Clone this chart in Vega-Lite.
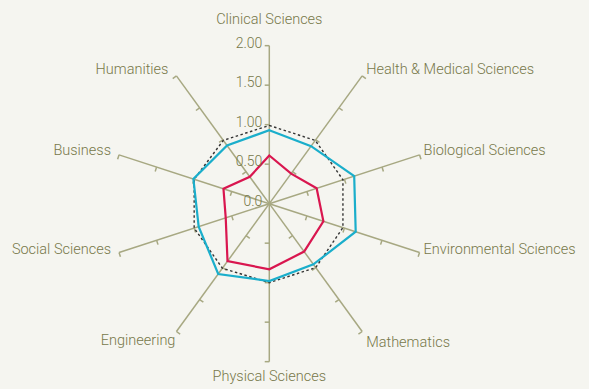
{
  "$schema": "https://vega.github.io/schema/vega-lite/v6.json",
  "width": 589,
  "height": 389,
  "autosize": {"type": "fit", "contains": "padding"},
  "padding": 0,
  "background": "#f5f5f0",
  "config": {"view": {"stroke": null}},
  "datasets": {
    "axes": [
      {"axis": "Clinical Sciences", "i": 0, "ticks": [0.5, 1, 1.5, 2]},
      {"axis": "Health & Medical Sciences", "i": 1, "ticks": [0.5, 1, 1.5, 2]},
      {"axis": "Biological Sciences", "i": 2, "ticks": [0.5, 1, 1.5, 2]},
      {"axis": "Environmental Sciences", "i": 3, "ticks": [0.5, 1, 1.5, 2]},
      {"axis": "Mathematics", "i": 4, "ticks": [0.5, 1, 1.5, 2]},
      {"axis": "Physical Sciences", "i": 5, "ticks": [0.5, 1, 1.5, 2]},
      {"axis": "Engineering", "i": 6, "ticks": [0.5, 1, 1.5, 2]},
      {"axis": "Social Sciences", "i": 7, "ticks": [0.5, 1, 1.5, 2]},
      {"axis": "Business", "i": 8, "ticks": [0.5, 1, 1.5, 2]},
      {"axis": "Humanities", "i": 9, "ticks": [0.5, 1, 1.5, 2]}
    ],
    "scores": [
      {"axis": "Clinical Sciences", "i": 0, "series": "Blue", "value": 0.93},
      {"axis": "Health & Medical Sciences", "i": 1, "series": "Blue", "value": 0.90},
      {"axis": "Biological Sciences", "i": 2, "series": "Blue", "value": 1.13},
      {"axis": "Environmental Sciences", "i": 3, "series": "Blue", "value": 1.15},
      {"axis": "Mathematics", "i": 4, "series": "Blue", "value": 0.95},
      {"axis": "Physical Sciences", "i": 5, "series": "Blue", "value": 0.98},
      {"axis": "Engineering", "i": 6, "series": "Blue", "value": 1.10},
      {"axis": "Social Sciences", "i": 7, "series": "Blue", "value": 0.94},
      {"axis": "Business", "i": 8, "series": "Blue", "value": 1.01},
      {"axis": "Humanities", "i": 9, "series": "Blue", "value": 0.91},
      {"axis": "Clinical Sciences", "i": 0, "series": "Red", "value": 0.61},
      {"axis": "Health & Medical Sciences", "i": 1, "series": "Red", "value": 0.47},
      {"axis": "Biological Sciences", "i": 2, "series": "Red", "value": 0.63},
      {"axis": "Environmental Sciences", "i": 3, "series": "Red", "value": 0.72},
      {"axis": "Mathematics", "i": 4, "series": "Red", "value": 0.75},
      {"axis": "Physical Sciences", "i": 5, "series": "Red", "value": 0.83},
      {"axis": "Engineering", "i": 6, "series": "Red", "value": 0.90},
      {"axis": "Social Sciences", "i": 7, "series": "Red", "value": 0.58},
      {"axis": "Business", "i": 8, "series": "Red", "value": 0.61},
      {"axis": "Humanities", "i": 9, "series": "Red", "value": 0.42},
      {"axis": "Clinical Sciences", "i": 0, "series": "Reference", "value": 0.99},
      {"axis": "Health & Medical Sciences", "i": 1, "series": "Reference", "value": 0.99},
      {"axis": "Biological Sciences", "i": 2, "series": "Reference", "value": 0.98},
      {"axis": "Environmental Sciences", "i": 3, "series": "Reference", "value": 0.98},
      {"axis": "Mathematics", "i": 4, "series": "Reference", "value": 1.0},
      {"axis": "Physical Sciences", "i": 5, "series": "Reference", "value": 1.0},
      {"axis": "Engineering", "i": 6, "series": "Reference", "value": 1.01},
      {"axis": "Social Sciences", "i": 7, "series": "Reference", "value": 1.0},
      {"axis": "Business", "i": 8, "series": "Reference", "value": 1.0},
      {"axis": "Humanities", "i": 9, "series": "Reference", "value": 0.99}
    ],
    "scaleLabels": [
      {"label": "0.0", "v": 0},
      {"label": "0.50", "v": 0.5},
      {"label": "1.00", "v": 1},
      {"label": "1.50", "v": 1.5},
      {"label": "2.00", "v": 2}
    ]
  },
  "layer": [
    {
      "data": {"name": "axes"},
      "transform": [
        {"calculate": "datum.i * PI / 5", "as": "t"},
        {"calculate": "0", "as": "ox"},
        {"calculate": "0", "as": "oy"},
        {"calculate": "2 * sin(datum.t)", "as": "ex"},
        {"calculate": "2 * cos(datum.t)", "as": "ey"}
      ],
      "mark": {"type": "rule", "color": "#a7a882", "strokeWidth": 1.5},
      "encoding": {
        "x": {"field": "ox", "type": "quantitative", "scale": {"domain": [-3.409, 4.047], "nice": false, "zero": false}, "axis": null},
        "y": {"field": "oy", "type": "quantitative", "scale": {"domain": [-2.346, 2.578], "nice": false, "zero": false}, "axis": null},
        "x2": {"field": "ex"},
        "y2": {"field": "ey"}
      }
    },
    {
      "data": {"name": "axes"},
      "transform": [
        {"flatten": ["ticks"], "as": ["v"]},
        {"calculate": "datum.i * PI / 5", "as": "t"},
        {"calculate": "datum.v * sin(datum.t)", "as": "px"},
        {"calculate": "datum.v * cos(datum.t)", "as": "py"},
        {"calculate": "abs(sin(datum.t)) < 0.01 ? -1 : (sin(datum.t) > 0 ? cos(datum.t) : -cos(datum.t))", "as": "tx"},
        {"calculate": "-abs(sin(datum.t))", "as": "ty"},
        {"calculate": "datum.px + 0.058 * datum.tx", "as": "qx"},
        {"calculate": "datum.py + 0.058 * datum.ty", "as": "qy"}
      ],
      "mark": {"type": "rule", "color": "#a7a882", "strokeWidth": 1.5},
      "encoding": {
        "x": {"field": "px", "type": "quantitative", "scale": {"domain": [-3.409, 4.047], "nice": false, "zero": false}, "axis": null},
        "y": {"field": "py", "type": "quantitative", "scale": {"domain": [-2.346, 2.578], "nice": false, "zero": false}, "axis": null},
        "x2": {"field": "qx"},
        "y2": {"field": "qy"}
      }
    },
    {
      "data": {"name": "scores"},
      "transform": [
        {"filter": "datum.series === 'Reference'"},
        {"calculate": "datum.i * PI / 5", "as": "t"},
        {"calculate": "datum.value * sin(datum.t)", "as": "x"},
        {"calculate": "datum.value * cos(datum.t)", "as": "y"}
      ],
      "mark": {"type": "line", "interpolate": "linear-closed", "color": "#333333", "strokeWidth": 1.4, "strokeDash": [2.5, 2.5]},
      "encoding": {
        "x": {"field": "x", "type": "quantitative", "scale": {"domain": [-3.409, 4.047], "nice": false, "zero": false}, "axis": null},
        "y": {"field": "y", "type": "quantitative", "scale": {"domain": [-2.346, 2.578], "nice": false, "zero": false}, "axis": null},
        "order": {"field": "i", "type": "quantitative"}
      }
    },
    {
      "data": {"name": "scores"},
      "transform": [
        {"filter": "datum.series === 'Blue'"},
        {"calculate": "datum.i * PI / 5", "as": "t"},
        {"calculate": "datum.value * sin(datum.t)", "as": "x"},
        {"calculate": "datum.value * cos(datum.t)", "as": "y"}
      ],
      "mark": {"type": "line", "interpolate": "linear-closed", "color": "#1aaecb", "strokeWidth": 2.2},
      "encoding": {
        "x": {"field": "x", "type": "quantitative", "scale": {"domain": [-3.409, 4.047], "nice": false, "zero": false}, "axis": null},
        "y": {"field": "y", "type": "quantitative", "scale": {"domain": [-2.346, 2.578], "nice": false, "zero": false}, "axis": null},
        "order": {"field": "i", "type": "quantitative"}
      }
    },
    {
      "data": {"name": "scores"},
      "transform": [
        {"filter": "datum.series === 'Red'"},
        {"calculate": "datum.i * PI / 5", "as": "t"},
        {"calculate": "datum.value * sin(datum.t)", "as": "x"},
        {"calculate": "datum.value * cos(datum.t)", "as": "y"}
      ],
      "mark": {"type": "line", "interpolate": "linear-closed", "color": "#d9164f", "strokeWidth": 2.2},
      "encoding": {
        "x": {"field": "x", "type": "quantitative", "scale": {"domain": [-3.409, 4.047], "nice": false, "zero": false}, "axis": null},
        "y": {"field": "y", "type": "quantitative", "scale": {"domain": [-2.346, 2.578], "nice": false, "zero": false}, "axis": null},
        "order": {"field": "i", "type": "quantitative"}
      }
    },
    {
      "data": {"name": "scaleLabels"},
      "mark": {"type": "text", "align": "right", "baseline": "middle", "dx": -7, "dy": -2, "font": "Roboto", "fontWeight": 300, "fontSize": 14, "color": "#77784a"},
      "encoding": {
        "x": {"datum": 0, "type": "quantitative", "scale": {"domain": [-3.409, 4.047], "nice": false, "zero": false}, "axis": null},
        "y": {"field": "v", "type": "quantitative", "scale": {"domain": [-2.346, 2.578], "nice": false, "zero": false}, "axis": null},
        "text": {"field": "label"}
      }
    },
    {
      "data": {"name": "axes"},
      "transform": [
        {"filter": "datum.i === 0"},
        {"calculate": "datum.i * PI / 5", "as": "t"},
        {"calculate": "2 * sin(datum.t)", "as": "x"},
        {"calculate": "2 * cos(datum.t)", "as": "y"}
      ],
      "mark": {"type": "text", "align": "center", "baseline": "bottom", "dy": -19, "font": "Roboto", "fontWeight": 300, "fontSize": 14.5, "color": "#77784a"},
      "encoding": {
        "x": {"field": "x", "type": "quantitative", "scale": {"domain": [-3.409, 4.047], "nice": false, "zero": false}, "axis": null},
        "y": {"field": "y", "type": "quantitative", "scale": {"domain": [-2.346, 2.578], "nice": false, "zero": false}, "axis": null},
        "text": {"field": "axis"}
      }
    },
    {
      "data": {"name": "axes"},
      "transform": [
        {"filter": "datum.i === 5"},
        {"calculate": "datum.i * PI / 5", "as": "t"},
        {"calculate": "2 * sin(datum.t)", "as": "x"},
        {"calculate": "2 * cos(datum.t)", "as": "y"}
      ],
      "mark": {"type": "text", "align": "center", "baseline": "top", "dy": 8.5, "font": "Roboto", "fontWeight": 300, "fontSize": 14.5, "color": "#77784a"},
      "encoding": {
        "x": {"field": "x", "type": "quantitative", "scale": {"domain": [-3.409, 4.047], "nice": false, "zero": false}, "axis": null},
        "y": {"field": "y", "type": "quantitative", "scale": {"domain": [-2.346, 2.578], "nice": false, "zero": false}, "axis": null},
        "text": {"field": "axis"}
      }
    },
    {
      "data": {"name": "axes"},
      "transform": [
        {"filter": "datum.i >= 1 && datum.i <= 3"},
        {"calculate": "datum.i * PI / 5", "as": "t"},
        {"calculate": "2 * sin(datum.t)", "as": "x"},
        {"calculate": "2.04 * cos(datum.t)", "as": "y"}
      ],
      "mark": {"type": "text", "align": "left", "baseline": "middle", "dx": 4, "dy": -3, "font": "Roboto", "fontWeight": 300, "fontSize": 14.5, "color": "#77784a"},
      "encoding": {
        "x": {"field": "x", "type": "quantitative", "scale": {"domain": [-3.409, 4.047], "nice": false, "zero": false}, "axis": null},
        "y": {"field": "y", "type": "quantitative", "scale": {"domain": [-2.346, 2.578], "nice": false, "zero": false}, "axis": null},
        "text": {"field": "axis"}
      }
    },
    {
      "data": {"name": "axes"},
      "transform": [
        {"filter": "datum.i === 4"},
        {"calculate": "datum.i * PI / 5", "as": "t"},
        {"calculate": "2 * sin(datum.t)", "as": "x"},
        {"calculate": "2 * cos(datum.t)", "as": "y"}
      ],
      "mark": {"type": "text", "align": "left", "baseline": "middle", "dx": 4, "dy": 11.5, "font": "Roboto", "fontWeight": 300, "fontSize": 14.5, "color": "#77784a"},
      "encoding": {
        "x": {"field": "x", "type": "quantitative", "scale": {"domain": [-3.409, 4.047], "nice": false, "zero": false}, "axis": null},
        "y": {"field": "y", "type": "quantitative", "scale": {"domain": [-2.346, 2.578], "nice": false, "zero": false}, "axis": null},
        "text": {"field": "axis"}
      }
    },
    {
      "data": {"name": "axes"},
      "transform": [
        {"filter": "datum.i === 6"},
        {"calculate": "datum.i * PI / 5", "as": "t"},
        {"calculate": "2 * sin(datum.t)", "as": "x"},
        {"calculate": "2 * cos(datum.t)", "as": "y"}
      ],
      "mark": {"type": "text", "align": "right", "baseline": "middle", "dx": -1, "dy": 10, "font": "Roboto", "fontWeight": 300, "fontSize": 14.5, "color": "#77784a"},
      "encoding": {
        "x": {"field": "x", "type": "quantitative", "scale": {"domain": [-3.409, 4.047], "nice": false, "zero": false}, "axis": null},
        "y": {"field": "y", "type": "quantitative", "scale": {"domain": [-2.346, 2.578], "nice": false, "zero": false}, "axis": null},
        "text": {"field": "axis"}
      }
    },
    {
      "data": {"name": "axes"},
      "transform": [
        {"filter": "datum.i >= 7"},
        {"calculate": "datum.i * PI / 5", "as": "t"},
        {"calculate": "2 * sin(datum.t)", "as": "x"},
        {"calculate": "2.04 * cos(datum.t)", "as": "y"}
      ],
      "mark": {"type": "text", "align": "right", "baseline": "middle", "dx": -8, "dy": -3, "font": "Roboto", "fontWeight": 300, "fontSize": 14.5, "color": "#77784a"},
      "encoding": {
        "x": {"field": "x", "type": "quantitative", "scale": {"domain": [-3.409, 4.047], "nice": false, "zero": false}, "axis": null},
        "y": {"field": "y", "type": "quantitative", "scale": {"domain": [-2.346, 2.578], "nice": false, "zero": false}, "axis": null},
        "text": {"field": "axis"}
      }
    }
  ]
}
